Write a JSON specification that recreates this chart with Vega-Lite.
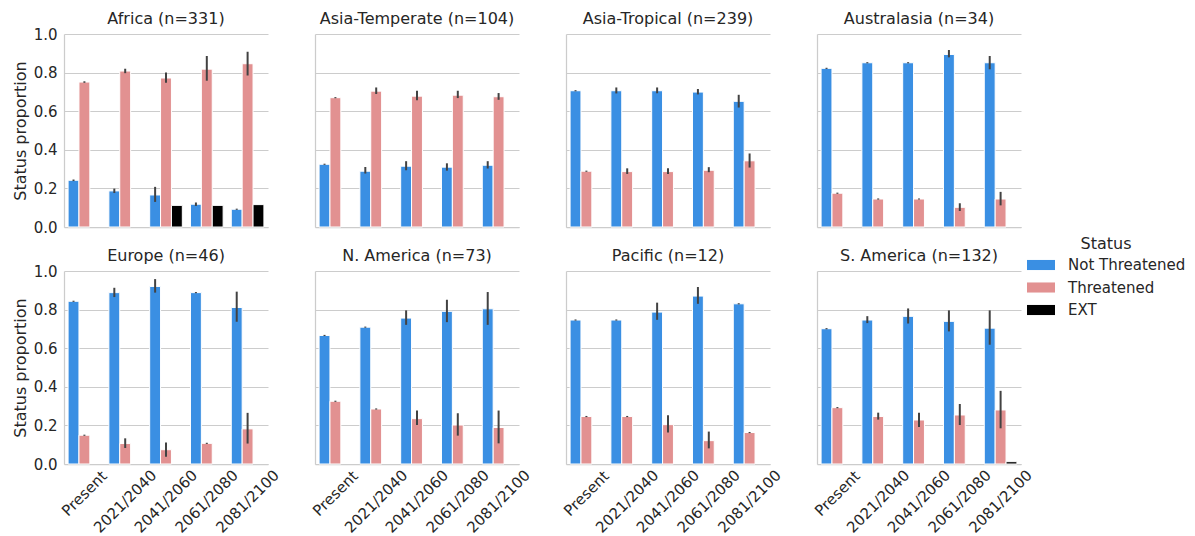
{
  "$schema": "https://vega.github.io/schema/vega-lite/v6.json",
  "background": "white",
  "padding": {"left": 12, "top": 11, "right": 5, "bottom": 0},
  "bounds": "flush",
  "columns": 4,
  "spacing": {"row": 44, "column": 47},
  "config": {
    "font": "DejaVu Sans",
    "view": {"stroke": null},
    "axis": {"labelFontSize": 15, "labelColor": "#262626", "titleFontSize": 16, "titleColor": "#262626", "titleFontWeight": "normal", "gridColor": "#cccccc", "gridWidth": 1, "domainColor": "#cccccc", "domainWidth": 1.25, "ticks": false, "labelPadding": 7, "titlePadding": 5, "labelOverlap": false},
    "axisX": {"grid": false},
    "axisY": {"grid": true},
    "title": {"fontSize": 16, "fontWeight": "normal", "color": "#262626", "offset": 7, "frame": "group", "anchor": "middle"},
    "legend": {"orient": "none", "legendX": 963, "legendY": 202, "titleFontSize": 16, "titleFontWeight": "normal", "titleColor": "#262626", "titleAnchor": "middle", "titlePadding": -1, "labelFontSize": 15, "labelColor": "#262626", "labelOffset": 13, "symbolType": "M-1,-0.36L1,-0.36L1,0.36L-1,0.36Z", "symbolSize": 784, "symbolStrokeWidth": 0, "rowPadding": 0.5}
  },
  "data": {"values": [
    {"region": "Africa (n=331)", "period": "Present", "status": "Not Threatened", "value": 0.242, "lo": 0.238, "hi": 0.246},
    {"region": "Africa (n=331)", "period": "Present", "status": "Threatened", "value": 0.751, "lo": 0.747, "hi": 0.755},
    {"region": "Africa (n=331)", "period": "2021/2040", "status": "Not Threatened", "value": 0.187, "lo": 0.176, "hi": 0.199},
    {"region": "Africa (n=331)", "period": "2021/2040", "status": "Threatened", "value": 0.808, "lo": 0.797, "hi": 0.820},
    {"region": "Africa (n=331)", "period": "2041/2060", "status": "Not Threatened", "value": 0.166, "lo": 0.130, "hi": 0.208},
    {"region": "Africa (n=331)", "period": "2041/2060", "status": "Threatened", "value": 0.772, "lo": 0.747, "hi": 0.800},
    {"region": "Africa (n=331)", "period": "2041/2060", "status": "EXT", "value": 0.112},
    {"region": "Africa (n=331)", "period": "2061/2080", "status": "Not Threatened", "value": 0.118, "lo": 0.109, "hi": 0.127},
    {"region": "Africa (n=331)", "period": "2061/2080", "status": "Threatened", "value": 0.818, "lo": 0.758, "hi": 0.886},
    {"region": "Africa (n=331)", "period": "2061/2080", "status": "EXT", "value": 0.112},
    {"region": "Africa (n=331)", "period": "2081/2100", "status": "Not Threatened", "value": 0.092, "lo": 0.089, "hi": 0.095},
    {"region": "Africa (n=331)", "period": "2081/2100", "status": "Threatened", "value": 0.846, "lo": 0.785, "hi": 0.908},
    {"region": "Africa (n=331)", "period": "2081/2100", "status": "EXT", "value": 0.116},

    {"region": "Asia-Temperate (n=104)", "period": "Present", "status": "Not Threatened", "value": 0.325, "lo": 0.322, "hi": 0.328},
    {"region": "Asia-Temperate (n=104)", "period": "Present", "status": "Threatened", "value": 0.670, "lo": 0.667, "hi": 0.673},
    {"region": "Asia-Temperate (n=104)", "period": "2021/2040", "status": "Not Threatened", "value": 0.289, "lo": 0.277, "hi": 0.311},
    {"region": "Asia-Temperate (n=104)", "period": "2021/2040", "status": "Threatened", "value": 0.704, "lo": 0.689, "hi": 0.723},
    {"region": "Asia-Temperate (n=104)", "period": "2041/2060", "status": "Not Threatened", "value": 0.315, "lo": 0.294, "hi": 0.341},
    {"region": "Asia-Temperate (n=104)", "period": "2041/2060", "status": "Threatened", "value": 0.678, "lo": 0.657, "hi": 0.706},
    {"region": "Asia-Temperate (n=104)", "period": "2061/2080", "status": "Not Threatened", "value": 0.310, "lo": 0.292, "hi": 0.330},
    {"region": "Asia-Temperate (n=104)", "period": "2061/2080", "status": "Threatened", "value": 0.683, "lo": 0.668, "hi": 0.706},
    {"region": "Asia-Temperate (n=104)", "period": "2081/2100", "status": "Not Threatened", "value": 0.320, "lo": 0.303, "hi": 0.341},
    {"region": "Asia-Temperate (n=104)", "period": "2081/2100", "status": "Threatened", "value": 0.675, "lo": 0.659, "hi": 0.694},

    {"region": "Asia-Tropical (n=239)", "period": "Present", "status": "Not Threatened", "value": 0.706, "lo": 0.703, "hi": 0.709},
    {"region": "Asia-Tropical (n=239)", "period": "Present", "status": "Threatened", "value": 0.289, "lo": 0.286, "hi": 0.292},
    {"region": "Asia-Tropical (n=239)", "period": "2021/2040", "status": "Not Threatened", "value": 0.706, "lo": 0.692, "hi": 0.723},
    {"region": "Asia-Tropical (n=239)", "period": "2021/2040", "status": "Threatened", "value": 0.287, "lo": 0.275, "hi": 0.304},
    {"region": "Asia-Tropical (n=239)", "period": "2041/2060", "status": "Not Threatened", "value": 0.706, "lo": 0.693, "hi": 0.723},
    {"region": "Asia-Tropical (n=239)", "period": "2041/2060", "status": "Threatened", "value": 0.287, "lo": 0.275, "hi": 0.304},
    {"region": "Asia-Tropical (n=239)", "period": "2061/2080", "status": "Not Threatened", "value": 0.699, "lo": 0.687, "hi": 0.715},
    {"region": "Asia-Tropical (n=239)", "period": "2061/2080", "status": "Threatened", "value": 0.294, "lo": 0.284, "hi": 0.310},
    {"region": "Asia-Tropical (n=239)", "period": "2081/2100", "status": "Not Threatened", "value": 0.651, "lo": 0.619, "hi": 0.685},
    {"region": "Asia-Tropical (n=239)", "period": "2081/2100", "status": "Threatened", "value": 0.343, "lo": 0.308, "hi": 0.381},

    {"region": "Australasia (n=34)", "period": "Present", "status": "Not Threatened", "value": 0.822, "lo": 0.819, "hi": 0.825},
    {"region": "Australasia (n=34)", "period": "Present", "status": "Threatened", "value": 0.175, "lo": 0.172, "hi": 0.178},
    {"region": "Australasia (n=34)", "period": "2021/2040", "status": "Not Threatened", "value": 0.851, "lo": 0.848, "hi": 0.854},
    {"region": "Australasia (n=34)", "period": "2021/2040", "status": "Threatened", "value": 0.145, "lo": 0.142, "hi": 0.148},
    {"region": "Australasia (n=34)", "period": "2041/2060", "status": "Not Threatened", "value": 0.851, "lo": 0.848, "hi": 0.854},
    {"region": "Australasia (n=34)", "period": "2041/2060", "status": "Threatened", "value": 0.145, "lo": 0.142, "hi": 0.148},
    {"region": "Australasia (n=34)", "period": "2061/2080", "status": "Not Threatened", "value": 0.894, "lo": 0.879, "hi": 0.917},
    {"region": "Australasia (n=34)", "period": "2061/2080", "status": "Threatened", "value": 0.102, "lo": 0.083, "hi": 0.123},
    {"region": "Australasia (n=34)", "period": "2081/2100", "status": "Not Threatened", "value": 0.851, "lo": 0.817, "hi": 0.886},
    {"region": "Australasia (n=34)", "period": "2081/2100", "status": "Threatened", "value": 0.145, "lo": 0.112, "hi": 0.182},

    {"region": "Europe (n=46)", "period": "Present", "status": "Not Threatened", "value": 0.843, "lo": 0.840, "hi": 0.846},
    {"region": "Europe (n=46)", "period": "Present", "status": "Threatened", "value": 0.149, "lo": 0.146, "hi": 0.152},
    {"region": "Europe (n=46)", "period": "2021/2040", "status": "Not Threatened", "value": 0.888, "lo": 0.865, "hi": 0.913},
    {"region": "Europe (n=46)", "period": "2021/2040", "status": "Threatened", "value": 0.106, "lo": 0.083, "hi": 0.133},
    {"region": "Europe (n=46)", "period": "2041/2060", "status": "Not Threatened", "value": 0.920, "lo": 0.888, "hi": 0.958},
    {"region": "Europe (n=46)", "period": "2041/2060", "status": "Threatened", "value": 0.074, "lo": 0.038, "hi": 0.111},
    {"region": "Europe (n=46)", "period": "2061/2080", "status": "Not Threatened", "value": 0.888, "lo": 0.885, "hi": 0.891},
    {"region": "Europe (n=46)", "period": "2061/2080", "status": "Threatened", "value": 0.107, "lo": 0.104, "hi": 0.110},
    {"region": "Europe (n=46)", "period": "2081/2100", "status": "Not Threatened", "value": 0.811, "lo": 0.737, "hi": 0.893},
    {"region": "Europe (n=46)", "period": "2081/2100", "status": "Threatened", "value": 0.182, "lo": 0.106, "hi": 0.265},

    {"region": "N. America (n=73)", "period": "Present", "status": "Not Threatened", "value": 0.666, "lo": 0.663, "hi": 0.669},
    {"region": "N. America (n=73)", "period": "Present", "status": "Threatened", "value": 0.325, "lo": 0.322, "hi": 0.328},
    {"region": "N. America (n=73)", "period": "2021/2040", "status": "Not Threatened", "value": 0.709, "lo": 0.706, "hi": 0.712},
    {"region": "N. America (n=73)", "period": "2021/2040", "status": "Threatened", "value": 0.285, "lo": 0.282, "hi": 0.288},
    {"region": "N. America (n=73)", "period": "2041/2060", "status": "Not Threatened", "value": 0.756, "lo": 0.721, "hi": 0.796},
    {"region": "N. America (n=73)", "period": "2041/2060", "status": "Threatened", "value": 0.235, "lo": 0.202, "hi": 0.277},
    {"region": "N. America (n=73)", "period": "2061/2080", "status": "Not Threatened", "value": 0.791, "lo": 0.735, "hi": 0.851},
    {"region": "N. America (n=73)", "period": "2061/2080", "status": "Threatened", "value": 0.202, "lo": 0.147, "hi": 0.263},
    {"region": "N. America (n=73)", "period": "2081/2100", "status": "Not Threatened", "value": 0.804, "lo": 0.721, "hi": 0.891},
    {"region": "N. America (n=73)", "period": "2081/2100", "status": "Threatened", "value": 0.189, "lo": 0.107, "hi": 0.277},

    {"region": "Pacific (n=12)", "period": "Present", "status": "Not Threatened", "value": 0.746, "lo": 0.743, "hi": 0.749},
    {"region": "Pacific (n=12)", "period": "Present", "status": "Threatened", "value": 0.246, "lo": 0.243, "hi": 0.249},
    {"region": "Pacific (n=12)", "period": "2021/2040", "status": "Not Threatened", "value": 0.746, "lo": 0.743, "hi": 0.749},
    {"region": "Pacific (n=12)", "period": "2021/2040", "status": "Threatened", "value": 0.246, "lo": 0.243, "hi": 0.249},
    {"region": "Pacific (n=12)", "period": "2041/2060", "status": "Not Threatened", "value": 0.787, "lo": 0.747, "hi": 0.836},
    {"region": "Pacific (n=12)", "period": "2041/2060", "status": "Threatened", "value": 0.204, "lo": 0.163, "hi": 0.253},
    {"region": "Pacific (n=12)", "period": "2061/2080", "status": "Not Threatened", "value": 0.870, "lo": 0.830, "hi": 0.917},
    {"region": "Pacific (n=12)", "period": "2061/2080", "status": "Threatened", "value": 0.121, "lo": 0.081, "hi": 0.168},
    {"region": "Pacific (n=12)", "period": "2081/2100", "status": "Not Threatened", "value": 0.830, "lo": 0.827, "hi": 0.833},
    {"region": "Pacific (n=12)", "period": "2081/2100", "status": "Threatened", "value": 0.163, "lo": 0.160, "hi": 0.166},

    {"region": "S. America (n=132)", "period": "Present", "status": "Not Threatened", "value": 0.701, "lo": 0.698, "hi": 0.704},
    {"region": "S. America (n=132)", "period": "Present", "status": "Threatened", "value": 0.292, "lo": 0.289, "hi": 0.295},
    {"region": "S. America (n=132)", "period": "2021/2040", "status": "Not Threatened", "value": 0.746, "lo": 0.730, "hi": 0.766},
    {"region": "S. America (n=132)", "period": "2021/2040", "status": "Threatened", "value": 0.246, "lo": 0.230, "hi": 0.266},
    {"region": "S. America (n=132)", "period": "2041/2060", "status": "Not Threatened", "value": 0.765, "lo": 0.728, "hi": 0.806},
    {"region": "S. America (n=132)", "period": "2041/2060", "status": "Threatened", "value": 0.228, "lo": 0.192, "hi": 0.266},
    {"region": "S. America (n=132)", "period": "2061/2080", "status": "Not Threatened", "value": 0.739, "lo": 0.687, "hi": 0.796},
    {"region": "S. America (n=132)", "period": "2061/2080", "status": "Threatened", "value": 0.254, "lo": 0.202, "hi": 0.311},
    {"region": "S. America (n=132)", "period": "2081/2100", "status": "Not Threatened", "value": 0.704, "lo": 0.618, "hi": 0.796},
    {"region": "S. America (n=132)", "period": "2081/2100", "status": "Threatened", "value": 0.280, "lo": 0.185, "hi": 0.379},
    {"region": "S. America (n=132)", "period": "2081/2100", "status": "EXT", "value": 0.012}
  ]},
  "concat": [
    {
      "title": {"text": "Africa (n=331)", "offset": 0}, "width": 204, "height": 193,
      "transform": [{"filter": {"field": "region", "equal": "Africa (n=331)"}}],
      "encoding": {
        "x": {"field": "period", "type": "nominal", "sort": ["Present", "2021/2040", "2041/2060", "2061/2080", "2081/2100"], "scale": {"paddingInner": 0.2, "paddingOuter": 0.1}, "axis": {"labels": false, "title": null}},
        "xOffset": {"field": "status", "type": "nominal", "scale": {"domain": ["Not Threatened", "Threatened", "EXT"], "paddingInner": 0, "paddingOuter": 0}}
      },
      "layer": [
        {"mark": {"type": "bar", "stroke": "white", "strokeWidth": 1},
         "encoding": {
           "y": {"field": "value", "type": "quantitative", "scale": {"domain": [0, 1]}, "axis": {"title": "Status proportion", "values": [0, 0.2, 0.4, 0.6, 0.8, 1.0], "format": ".1f"}},
           "color": {"field": "status", "type": "nominal", "scale": {"domain": ["Not Threatened", "Threatened", "EXT"], "range": ["#3a8fe3", "#e29191", "#000000"]}, "legend": {"title": "Status"}}
         }},
        {"transform": [{"filter": "isValid(datum.lo)"}], "mark": {"type": "rule", "color": "#424242", "strokeWidth": 2},
         "encoding": {"y": {"field": "lo", "type": "quantitative", "axis": {"title": "Status proportion", "values": [0, 0.2, 0.4, 0.6, 0.8, 1.0], "format": ".1f"}}, "y2": {"field": "hi"}}}
      ]
    },
    {
      "title": "Asia-Temperate (n=104)", "width": 204, "height": 193,
      "transform": [{"filter": {"field": "region", "equal": "Asia-Temperate (n=104)"}}],
      "encoding": {
        "x": {"field": "period", "type": "nominal", "sort": ["Present", "2021/2040", "2041/2060", "2061/2080", "2081/2100"], "scale": {"paddingInner": 0.2, "paddingOuter": 0.1}, "axis": {"labels": false, "title": null}},
        "xOffset": {"field": "status", "type": "nominal", "scale": {"domain": ["Not Threatened", "Threatened", "EXT"], "paddingInner": 0, "paddingOuter": 0}}
      },
      "layer": [
        {"mark": {"type": "bar", "stroke": "white", "strokeWidth": 1},
         "encoding": {
           "y": {"field": "value", "type": "quantitative", "scale": {"domain": [0, 1]}, "axis": {"title": null, "labels": false, "values": [0, 0.2, 0.4, 0.6, 0.8, 1.0]}},
           "color": {"field": "status", "type": "nominal", "scale": {"domain": ["Not Threatened", "Threatened", "EXT"], "range": ["#3a8fe3", "#e29191", "#000000"]}, "legend": {"title": "Status"}}
         }},
        {"transform": [{"filter": "isValid(datum.lo)"}], "mark": {"type": "rule", "color": "#424242", "strokeWidth": 2},
         "encoding": {"y": {"field": "lo", "type": "quantitative", "axis": {"title": null, "labels": false, "values": [0, 0.2, 0.4, 0.6, 0.8, 1.0]}}, "y2": {"field": "hi"}}}
      ]
    },
    {
      "title": "Asia-Tropical (n=239)", "width": 204, "height": 193,
      "transform": [{"filter": {"field": "region", "equal": "Asia-Tropical (n=239)"}}],
      "encoding": {
        "x": {"field": "period", "type": "nominal", "sort": ["Present", "2021/2040", "2041/2060", "2061/2080", "2081/2100"], "scale": {"paddingInner": 0.2, "paddingOuter": 0.1}, "axis": {"labels": false, "title": null}},
        "xOffset": {"field": "status", "type": "nominal", "scale": {"domain": ["Not Threatened", "Threatened", "EXT"], "paddingInner": 0, "paddingOuter": 0}}
      },
      "layer": [
        {"mark": {"type": "bar", "stroke": "white", "strokeWidth": 1},
         "encoding": {
           "y": {"field": "value", "type": "quantitative", "scale": {"domain": [0, 1]}, "axis": {"title": null, "labels": false, "values": [0, 0.2, 0.4, 0.6, 0.8, 1.0]}},
           "color": {"field": "status", "type": "nominal", "scale": {"domain": ["Not Threatened", "Threatened", "EXT"], "range": ["#3a8fe3", "#e29191", "#000000"]}, "legend": {"title": "Status"}}
         }},
        {"transform": [{"filter": "isValid(datum.lo)"}], "mark": {"type": "rule", "color": "#424242", "strokeWidth": 2},
         "encoding": {"y": {"field": "lo", "type": "quantitative", "axis": {"title": null, "labels": false, "values": [0, 0.2, 0.4, 0.6, 0.8, 1.0]}}, "y2": {"field": "hi"}}}
      ]
    },
    {
      "title": "Australasia (n=34)", "width": 204, "height": 193,
      "transform": [{"filter": {"field": "region", "equal": "Australasia (n=34)"}}],
      "encoding": {
        "x": {"field": "period", "type": "nominal", "sort": ["Present", "2021/2040", "2041/2060", "2061/2080", "2081/2100"], "scale": {"paddingInner": 0.2, "paddingOuter": 0.1}, "axis": {"labels": false, "title": null}},
        "xOffset": {"field": "status", "type": "nominal", "scale": {"domain": ["Not Threatened", "Threatened", "EXT"], "paddingInner": 0, "paddingOuter": 0}}
      },
      "layer": [
        {"mark": {"type": "bar", "stroke": "white", "strokeWidth": 1},
         "encoding": {
           "y": {"field": "value", "type": "quantitative", "scale": {"domain": [0, 1]}, "axis": {"title": null, "labels": false, "values": [0, 0.2, 0.4, 0.6, 0.8, 1.0]}},
           "color": {"field": "status", "type": "nominal", "scale": {"domain": ["Not Threatened", "Threatened", "EXT"], "range": ["#3a8fe3", "#e29191", "#000000"]}, "legend": {"title": "Status"}}
         }},
        {"transform": [{"filter": "isValid(datum.lo)"}], "mark": {"type": "rule", "color": "#424242", "strokeWidth": 2},
         "encoding": {"y": {"field": "lo", "type": "quantitative", "axis": {"title": null, "labels": false, "values": [0, 0.2, 0.4, 0.6, 0.8, 1.0]}}, "y2": {"field": "hi"}}}
      ]
    },
    {
      "title": {"text": "Europe (n=46)", "offset": 0}, "width": 204, "height": 193,
      "transform": [{"filter": {"field": "region", "equal": "Europe (n=46)"}}],
      "encoding": {
        "x": {"field": "period", "type": "nominal", "sort": ["Present", "2021/2040", "2041/2060", "2061/2080", "2081/2100"], "scale": {"paddingInner": 0.2, "paddingOuter": 0.1}, "axis": {"title": null, "labelAngle": -45, "labelAlign": "center", "labelBaseline": "middle", "labelPadding": {"condition": {"test": "datum.value === 'Present'", "value": 29}, "value": 37}}},
        "xOffset": {"field": "status", "type": "nominal", "scale": {"domain": ["Not Threatened", "Threatened", "EXT"], "paddingInner": 0, "paddingOuter": 0}}
      },
      "layer": [
        {"mark": {"type": "bar", "stroke": "white", "strokeWidth": 1},
         "encoding": {
           "y": {"field": "value", "type": "quantitative", "scale": {"domain": [0, 1]}, "axis": {"title": "Status proportion", "values": [0, 0.2, 0.4, 0.6, 0.8, 1.0], "format": ".1f"}},
           "color": {"field": "status", "type": "nominal", "scale": {"domain": ["Not Threatened", "Threatened", "EXT"], "range": ["#3a8fe3", "#e29191", "#000000"]}, "legend": {"title": "Status"}}
         }},
        {"transform": [{"filter": "isValid(datum.lo)"}], "mark": {"type": "rule", "color": "#424242", "strokeWidth": 2},
         "encoding": {"y": {"field": "lo", "type": "quantitative", "axis": {"title": "Status proportion", "values": [0, 0.2, 0.4, 0.6, 0.8, 1.0], "format": ".1f"}}, "y2": {"field": "hi"}}}
      ]
    },
    {
      "title": "N. America (n=73)", "width": 204, "height": 193,
      "transform": [{"filter": {"field": "region", "equal": "N. America (n=73)"}}],
      "encoding": {
        "x": {"field": "period", "type": "nominal", "sort": ["Present", "2021/2040", "2041/2060", "2061/2080", "2081/2100"], "scale": {"paddingInner": 0.2, "paddingOuter": 0.1}, "axis": {"title": null, "labelAngle": -45, "labelAlign": "center", "labelBaseline": "middle", "labelPadding": {"condition": {"test": "datum.value === 'Present'", "value": 29}, "value": 37}}},
        "xOffset": {"field": "status", "type": "nominal", "scale": {"domain": ["Not Threatened", "Threatened", "EXT"], "paddingInner": 0, "paddingOuter": 0}}
      },
      "layer": [
        {"mark": {"type": "bar", "stroke": "white", "strokeWidth": 1},
         "encoding": {
           "y": {"field": "value", "type": "quantitative", "scale": {"domain": [0, 1]}, "axis": {"title": null, "labels": false, "values": [0, 0.2, 0.4, 0.6, 0.8, 1.0]}},
           "color": {"field": "status", "type": "nominal", "scale": {"domain": ["Not Threatened", "Threatened", "EXT"], "range": ["#3a8fe3", "#e29191", "#000000"]}, "legend": {"title": "Status"}}
         }},
        {"transform": [{"filter": "isValid(datum.lo)"}], "mark": {"type": "rule", "color": "#424242", "strokeWidth": 2},
         "encoding": {"y": {"field": "lo", "type": "quantitative", "axis": {"title": null, "labels": false, "values": [0, 0.2, 0.4, 0.6, 0.8, 1.0]}}, "y2": {"field": "hi"}}}
      ]
    },
    {
      "title": "Pacific (n=12)", "width": 204, "height": 193,
      "transform": [{"filter": {"field": "region", "equal": "Pacific (n=12)"}}],
      "encoding": {
        "x": {"field": "period", "type": "nominal", "sort": ["Present", "2021/2040", "2041/2060", "2061/2080", "2081/2100"], "scale": {"paddingInner": 0.2, "paddingOuter": 0.1}, "axis": {"title": null, "labelAngle": -45, "labelAlign": "center", "labelBaseline": "middle", "labelPadding": {"condition": {"test": "datum.value === 'Present'", "value": 29}, "value": 37}}},
        "xOffset": {"field": "status", "type": "nominal", "scale": {"domain": ["Not Threatened", "Threatened", "EXT"], "paddingInner": 0, "paddingOuter": 0}}
      },
      "layer": [
        {"mark": {"type": "bar", "stroke": "white", "strokeWidth": 1},
         "encoding": {
           "y": {"field": "value", "type": "quantitative", "scale": {"domain": [0, 1]}, "axis": {"title": null, "labels": false, "values": [0, 0.2, 0.4, 0.6, 0.8, 1.0]}},
           "color": {"field": "status", "type": "nominal", "scale": {"domain": ["Not Threatened", "Threatened", "EXT"], "range": ["#3a8fe3", "#e29191", "#000000"]}, "legend": {"title": "Status"}}
         }},
        {"transform": [{"filter": "isValid(datum.lo)"}], "mark": {"type": "rule", "color": "#424242", "strokeWidth": 2},
         "encoding": {"y": {"field": "lo", "type": "quantitative", "axis": {"title": null, "labels": false, "values": [0, 0.2, 0.4, 0.6, 0.8, 1.0]}}, "y2": {"field": "hi"}}}
      ]
    },
    {
      "title": "S. America (n=132)", "width": 204, "height": 193,
      "transform": [{"filter": {"field": "region", "equal": "S. America (n=132)"}}],
      "encoding": {
        "x": {"field": "period", "type": "nominal", "sort": ["Present", "2021/2040", "2041/2060", "2061/2080", "2081/2100"], "scale": {"paddingInner": 0.2, "paddingOuter": 0.1}, "axis": {"title": null, "labelAngle": -45, "labelAlign": "center", "labelBaseline": "middle", "labelPadding": {"condition": {"test": "datum.value === 'Present'", "value": 29}, "value": 37}}},
        "xOffset": {"field": "status", "type": "nominal", "scale": {"domain": ["Not Threatened", "Threatened", "EXT"], "paddingInner": 0, "paddingOuter": 0}}
      },
      "layer": [
        {"mark": {"type": "bar", "stroke": "white", "strokeWidth": 1},
         "encoding": {
           "y": {"field": "value", "type": "quantitative", "scale": {"domain": [0, 1]}, "axis": {"title": null, "labels": false, "values": [0, 0.2, 0.4, 0.6, 0.8, 1.0]}},
           "color": {"field": "status", "type": "nominal", "scale": {"domain": ["Not Threatened", "Threatened", "EXT"], "range": ["#3a8fe3", "#e29191", "#000000"]}, "legend": {"title": "Status"}}
         }},
        {"transform": [{"filter": "isValid(datum.lo)"}], "mark": {"type": "rule", "color": "#424242", "strokeWidth": 2},
         "encoding": {"y": {"field": "lo", "type": "quantitative", "axis": {"title": null, "labels": false, "values": [0, 0.2, 0.4, 0.6, 0.8, 1.0]}}, "y2": {"field": "hi"}}}
      ]
    }
  ]
}
